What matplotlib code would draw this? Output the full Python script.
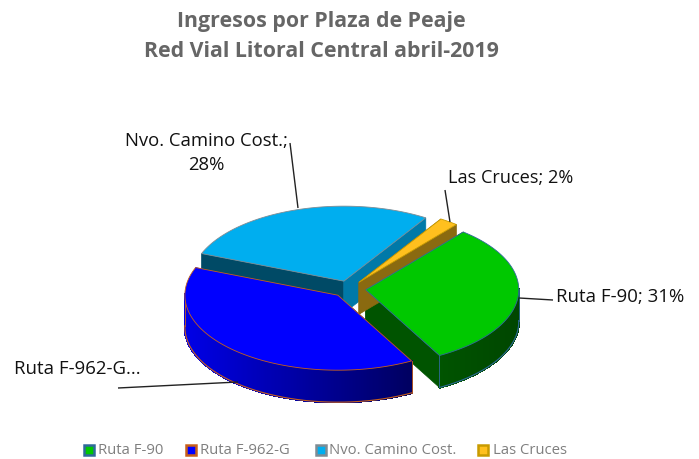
import numpy as np
import matplotlib
matplotlib.use('Agg')
import matplotlib.pyplot as plt
from matplotlib.patches import Polygon, Rectangle

title = 'Ingresos por Plaza de Peaje\nRed Vial Litoral Central abril-2019'
plazas = ['Ruta F-90', 'Ruta F-962-G', 'Nvo. Camino Cost.', 'Las Cruces']
shares = [31, 39, 28, 2]
labels = ['Ruta F-90; 31%', 'Ruta F-962-G...', 'Nvo. Camino Cost.;\n28%', 'Las Cruces; 2%']

top_colors = ['#00c800', '#0000ff', '#00aeef', '#ffc01e']
edge_colors = ['#2f6a9a', '#c8601a', '#7f8c94', '#c89b00']
wall_left = ['#005400', '#0000e6', '#0079a8', '#8a6a10']
wall_right = ['#004600', '#000060', '#004a66', '#8a6a10']

# pie layout, in pixels of the picture
cx, cy = 349, 289
rx, ry = 153, 75
depth = 32
explode = 0.11
start = 50.4

plt.rcParams['font.family'] = ['Open Sans', 'DejaVu Sans']
fig = plt.figure(figsize=(6.99, 4.59), dpi=100)
ax = fig.add_axes([0, 0, 1, 1])
ax.set_xlim(0, 699)
ax.set_ylim(459, 0)
ax.axis('off')


def point(a, ox, oy):
    return ox + rx * np.cos(np.radians(a)), oy - ry * np.sin(np.radians(a))


def mix(c1, c2, t):
    c1 = np.array(matplotlib.colors.to_rgb(c1))
    c2 = np.array(matplotlib.colors.to_rgb(c2))
    return c1 + (c2 - c1) * t


# angles of each slice, clockwise from the start angle
ends = start - np.cumsum(shares) * 3.6
begins = np.concatenate([[start], ends[:-1]])

# back slices first
for i in [2, 3, 0, 1]:
    a1, a2 = begins[i], ends[i]
    mid = (a1 + a2) / 2
    ox = cx + explode * rx * np.cos(np.radians(mid))
    oy = cy - explode * ry * np.sin(np.radians(mid))
    arc = np.linspace(a1, a2, 240)
    xs, ys = point(arc, ox, oy)

    # cut sides
    for a, col in [(a1, wall_right[i]), (a2, wall_left[i])]:
        px, py = point(a, ox, oy)
        ax.add_patch(Polygon([(ox, oy), (px, py), (px, py + depth), (ox, oy + depth)],
                             fc=col, ec=col, lw=0.5, zorder=2 + i * 0.01))

    # outer wall, only the front part shows
    front = np.sin(np.radians(arc)) < 0.02
    if front.any():
        fx, fy = xs[front], ys[front]
        for j in range(len(fx) - 1):
            t = (fx[j] - fx.min()) / (fx.max() - fx.min())
            col = mix(wall_left[i], wall_right[i], t)
            ax.add_patch(Polygon([(fx[j], fy[j]), (fx[j + 1], fy[j + 1]),
                                  (fx[j + 1], fy[j + 1] + depth), (fx[j], fy[j] + depth)],
                                 fc=col, ec=col, lw=1.0, antialiased=False, zorder=3 + i * 0.01))
        ax.plot(fx, fy + depth, color=edge_colors[i], lw=0.8, zorder=3.5)
        ax.plot([fx[0], fx[0]], [fy[0], fy[0] + depth], color=edge_colors[i], lw=0.6, zorder=3.5)
        ax.plot([fx[-1], fx[-1]], [fy[-1], fy[-1] + depth], color=edge_colors[i], lw=0.6, zorder=3.5)

    # top face
    ax.add_patch(Polygon(np.column_stack([np.r_[ox, xs], np.r_[oy, ys]]),
                         fc=top_colors[i], ec=edge_colors[i], lw=0.6, zorder=4))

# leader lines
leaders = [[(519, 298), (553, 300)], [(238, 382), (118, 388)],
           [(298, 208), (290, 143)], [(450, 222), (445, 190)]]
for seg in leaders:
    ax.plot(*zip(*seg), color='#222222', lw=1.0, zorder=5, solid_capstyle='butt')

# data labels
ax.text(556, 297, labels[0], fontsize=13.4, color='#111111', va='center', ha='left')
ax.text(14, 369, labels[1], fontsize=13.4, color='#111111', va='center', ha='left')
ax.text(206, 153, labels[2], fontsize=13.3, color='#111111', va='center', ha='center', linespacing=1.4)
ax.text(448, 178, labels[3], fontsize=13.1, color='#111111', va='center', ha='left')

# title
ax.text(321, 36.5, title, fontsize=15.4, fontweight='bold', color='#666666',
        ha='center', va='center', linespacing=1.55)

# legend
box_x = [83, 185, 315, 477]
text_x = [98, 200, 329, 493]
for i, name in enumerate(plazas):
    ax.add_patch(Rectangle((box_x[i] + 1, 445), 10, 10, fc=top_colors[i], ec=edge_colors[i], lw=1.8))
    ax.text(text_x[i], 450.5, name, fontsize=10.7, color='#7f7f7f', va='center', ha='left')

fig.savefig('out.png', dpi=100)
